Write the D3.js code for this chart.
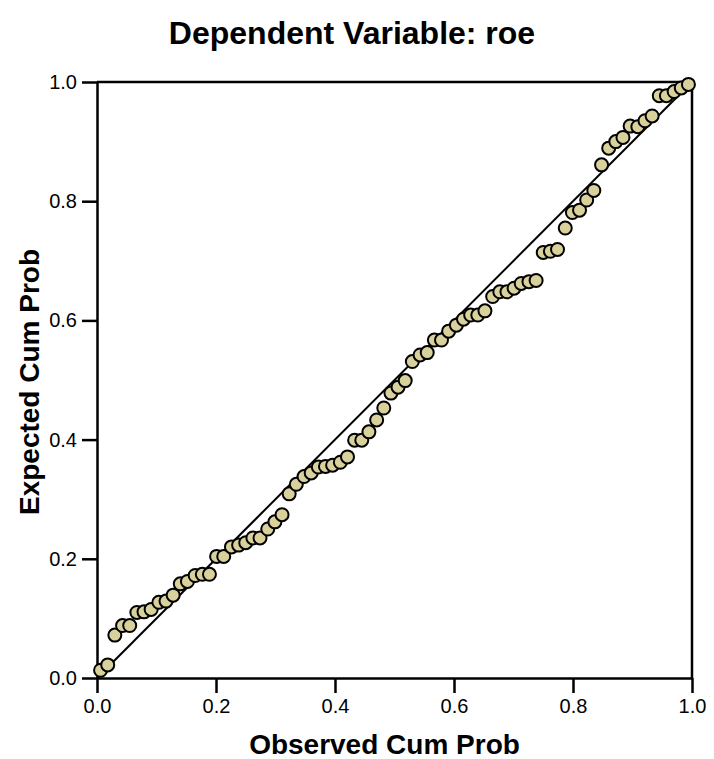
<html>
  <meta charset="utf-8" />
  <script src="https://d3js.org/d3.v7.min.js"></script>
  <style>
    body { margin: 0; background: #fff; }
    text { font-family: Arial, "Liberation Sans", sans-serif; }
    .title, .axis-title { font-weight: bold; }
  </style>
  <body>
    <svg width="714" height="759" id="pp"></svg>
  </body>
  <script>
    // P-P plot, observed vs expected cumulative probability
    const observed = [
      0.006, 0.018, 0.030, 0.043, 0.055, 0.067, 0.079, 0.091, 0.104, 0.116,
      0.128, 0.140, 0.152, 0.165, 0.177, 0.189, 0.201, 0.213, 0.226, 0.238,
      0.250, 0.262, 0.274, 0.287, 0.299, 0.311, 0.323, 0.335, 0.348, 0.360,
      0.372, 0.384, 0.396, 0.409, 0.421, 0.433, 0.445, 0.457, 0.470, 0.482,
      0.494, 0.506, 0.518, 0.530, 0.543, 0.555, 0.567, 0.579, 0.591, 0.604,
      0.616, 0.628, 0.640, 0.652, 0.665, 0.677, 0.689, 0.701, 0.713, 0.726,
      0.738, 0.750, 0.762, 0.774, 0.787, 0.799, 0.811, 0.823, 0.835, 0.848,
      0.860, 0.872, 0.884, 0.896, 0.909, 0.921, 0.933, 0.945, 0.957, 0.970,
      0.982, 0.994
    ];
    const expected = [
      0.013, 0.022, 0.072, 0.088, 0.088, 0.110, 0.111, 0.115, 0.127, 0.129,
      0.139, 0.158, 0.162, 0.172, 0.174, 0.174, 0.204, 0.204, 0.220, 0.223,
      0.227, 0.235, 0.235, 0.250, 0.262, 0.274, 0.309, 0.325, 0.338, 0.344,
      0.354, 0.355, 0.357, 0.362, 0.371, 0.399, 0.399, 0.413, 0.433, 0.453,
      0.478, 0.488, 0.499, 0.531, 0.542, 0.546, 0.567, 0.567, 0.582, 0.592,
      0.602, 0.609, 0.609, 0.616, 0.640, 0.648, 0.648, 0.654, 0.662, 0.665,
      0.667, 0.714, 0.716, 0.719, 0.755, 0.781, 0.785, 0.802, 0.818, 0.861,
      0.889, 0.900, 0.907, 0.926, 0.925, 0.935, 0.943, 0.977, 0.977, 0.984,
      0.990, 0.996
    ];
    const tickValues = [0, 0.2, 0.4, 0.6, 0.8, 1.0];

    const margin = { left: 97, top: 82 };
    const width = 595;
    const height = 596;

    const svg = d3.select("#pp");

    const x = d3.scaleLinear().domain([0, 1]).range([0, width]);
    const y = d3.scaleLinear().domain([0, 1]).range([height, 0]);

    const chart = svg
      .append("g")
      .attr("transform", `translate(${margin.left},${margin.top})`);

    // frame top + right
    chart.append("line")
      .attr("x1", 0).attr("x2", width).attr("y1", 0).attr("y2", 0)
      .attr("stroke", "#000").attr("stroke-width", 2.5);
    chart.append("line")
      .attr("x1", width).attr("x2", width).attr("y1", 0).attr("y2", height)
      .attr("stroke", "#000").attr("stroke-width", 2.5);

    const xAxis = chart
      .append("g")
      .attr("transform", `translate(0,${height})`)
      .call(
        d3.axisBottom(x).tickValues(tickValues).tickFormat(d3.format(".1f"))
          .tickSize(15).tickSizeOuter(0).tickPadding(6)
      );
    const yAxis = chart
      .append("g")
      .call(
        d3.axisLeft(y).tickValues(tickValues).tickFormat(d3.format(".1f"))
          .tickSize(15).tickSizeOuter(0).tickPadding(5)
      );

    [xAxis, yAxis].forEach((a) => {
      a.selectAll("path, line").attr("stroke", "#000").attr("stroke-width", 2.5);
      a.selectAll("text")
        .attr("fill", "#000")
        .style("font-size", "20px")
        .style("font-family", "Arial, 'Liberation Sans', sans-serif");
    });

    // reference diagonal
    chart.append("line")
      .attr("x1", x(0)).attr("y1", y(0))
      .attr("x2", x(1)).attr("y2", y(1))
      .attr("stroke", "#000").attr("stroke-width", 2);

    chart
      .selectAll("circle.pt")
      .data(observed.map((d, i) => [d, expected[i]]))
      .enter()
      .append("circle")
      .attr("class", "pt")
      .attr("cx", (d) => x(d[0]))
      .attr("cy", (d) => y(d[1]))
      .attr("r", 6.5)
      .attr("fill", "#d9d19c")
      .attr("stroke", "#000")
      .attr("stroke-width", 2);

    svg.append("text")
      .attr("class", "title")
      .attr("x", 352)
      .attr("y", 44)
      .attr("text-anchor", "middle")
      .style("font-size", "32px")
      .text("Dependent Variable: roe");

    svg.append("text")
      .attr("class", "axis-title")
      .attr("x", margin.left + width / 2 - 10)
      .attr("y", 754)
      .attr("text-anchor", "middle")
      .style("font-size", "28px")
      .text("Observed Cum Prob");

    svg.append("text")
      .attr("class", "axis-title")
      .attr("transform", `translate(39,${margin.top + height / 2 + 2}) rotate(-90)`)
      .attr("text-anchor", "middle")
      .style("font-size", "28px")
      .text("Expected Cum Prob");
  </script>
</html>
